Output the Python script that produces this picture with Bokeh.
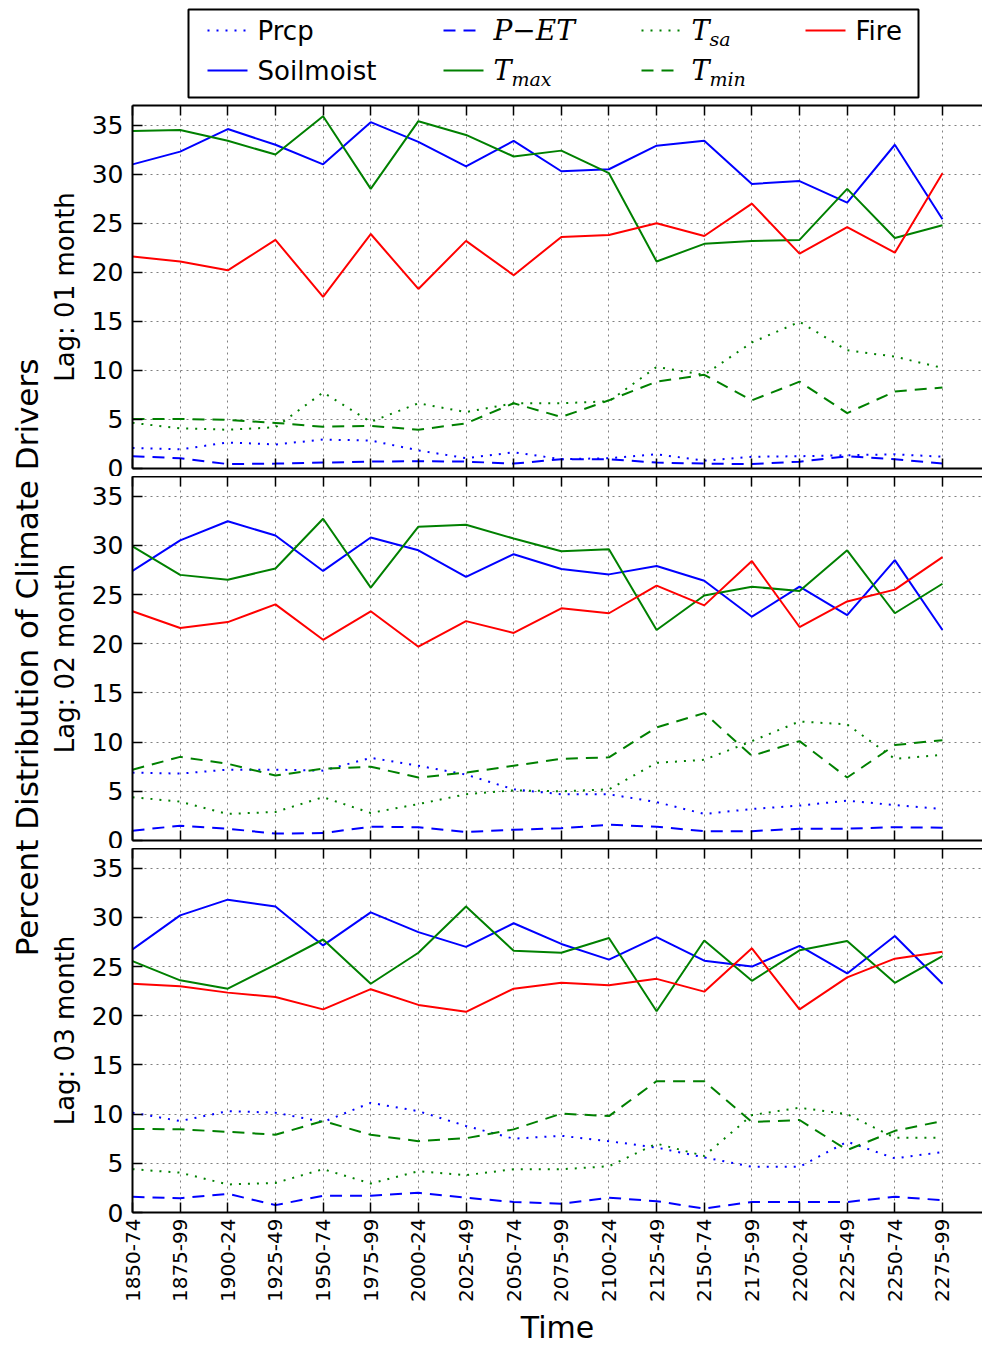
import math
from bokeh.plotting import figure
from bokeh.models import Range1d, FixedTicker, LinearAxis, Label
from bokeh.layouts import column, row
from bokeh.embed import file_html
from bokeh.resources import INLINE

periods = ["1850-74", "1875-99", "1900-24", "1925-49", "1950-74", "1975-99",
           "2000-24", "2025-49", "2050-74", "2075-99", "2100-24", "2125-49",
           "2150-74", "2175-99", "2200-24", "2225-49", "2250-74", "2275-99"]

# ---- Lag: 01 month ----
prcp1 = [2.1, 1.95, 2.65, 2.45, 2.95, 2.85, 1.85, 1.05, 1.65, 0.95, 1.05, 1.45, 0.8, 1.2, 1.25, 1.35, 1.45, 1.2]
soil1 = [31.0, 32.3, 34.6, 33.0, 31.0, 35.3, 33.3, 30.8, 33.4, 30.3, 30.5, 32.9, 33.4, 29.0, 29.3, 27.1, 33.0, 25.4]
pet1 = [1.25, 1.05, 0.45, 0.5, 0.6, 0.7, 0.75, 0.7, 0.5, 0.95, 0.95, 0.6, 0.5, 0.45, 0.7, 1.25, 0.95, 0.5]
tmax1 = [34.4, 34.5, 33.4, 32.0, 35.9, 28.5, 35.4, 34.0, 31.8, 32.4, 30.1, 21.1, 22.9, 23.2, 23.3, 28.5, 23.5, 24.8]
tsa1 = [4.65, 4.1, 3.95, 4.2, 7.75, 4.75, 6.65, 5.75, 6.65, 6.65, 6.85, 10.35, 9.55, 12.85, 14.95, 12.05, 11.4, 10.25]
tmin1 = [5.05, 5.05, 4.95, 4.65, 4.25, 4.35, 3.95, 4.6, 6.65, 5.25, 6.95, 8.85, 9.55, 6.95, 8.85, 5.65, 7.85, 8.25]
fire1 = [21.6, 21.1, 20.2, 23.3, 17.5, 23.9, 18.3, 23.2, 19.7, 23.6, 23.8, 25.0, 23.7, 27.0, 21.9, 24.6, 22.0, 30.1]

# ---- Lag: 02 month ----
prcp2 = [6.9, 6.8, 7.2, 7.2, 7.1, 8.4, 7.6, 6.7, 5.2, 4.7, 4.7, 3.9, 2.7, 3.2, 3.55, 4.05, 3.6, 3.2]
soil2 = [27.4, 30.5, 32.45, 31.0, 27.4, 30.8, 29.5, 26.8, 29.1, 27.6, 27.05, 27.9, 26.4, 22.75, 25.8, 22.9, 28.5, 21.4]
pet2 = [1.0, 1.5, 1.2, 0.7, 0.75, 1.4, 1.35, 0.85, 1.1, 1.25, 1.6, 1.4, 0.95, 0.95, 1.2, 1.2, 1.35, 1.3]
tmax2 = [29.9, 27.0, 26.5, 27.65, 32.7, 25.7, 31.9, 32.1, 30.7, 29.4, 29.6, 21.4, 24.9, 25.8, 25.35, 29.5, 23.1, 26.1]
tsa2 = [4.4, 3.95, 2.7, 2.9, 4.4, 2.8, 3.7, 4.7, 5.1, 5.0, 5.2, 7.9, 8.2, 10.1, 12.1, 11.8, 8.3, 8.7]
tmin2 = [7.2, 8.5, 7.8, 6.6, 7.3, 7.5, 6.4, 6.9, 7.6, 8.3, 8.45, 11.5, 12.95, 8.6, 10.1, 6.4, 9.7, 10.2]
fire2 = [23.3, 21.6, 22.2, 24.0, 20.4, 23.3, 19.7, 22.3, 21.1, 23.6, 23.1, 25.9, 23.9, 28.4, 21.7, 24.3, 25.5, 28.8]

# ---- Lag: 03 month ----
prcp3 = [10.15, 9.3, 10.3, 10.15, 9.2, 11.15, 10.3, 8.8, 7.5, 7.8, 7.25, 6.6, 5.6, 4.65, 4.65, 7.2, 5.5, 6.15]
soil3 = [26.75, 30.2, 31.8, 31.1, 27.15, 30.5, 28.5, 27.0, 29.4, 27.3, 25.7, 28.0, 25.6, 25.0, 27.1, 24.3, 28.1, 23.25]
pet3 = [1.6, 1.45, 1.9, 0.75, 1.7, 1.7, 2.0, 1.5, 1.07, 0.9, 1.5, 1.15, 0.4, 1.07, 1.07, 1.07, 1.6, 1.25]
tmax3 = [25.55, 23.6, 22.75, 25.2, 27.75, 23.25, 26.4, 31.1, 26.6, 26.4, 27.9, 20.45, 27.65, 23.55, 26.65, 27.6, 23.35, 26.05]
tsa3 = [4.4, 4.05, 2.85, 3.0, 4.4, 2.95, 4.2, 3.8, 4.4, 4.4, 4.7, 7.0, 5.75, 9.9, 10.65, 10.0, 7.6, 7.6]
tmin3 = [8.5, 8.45, 8.2, 7.9, 9.3, 7.9, 7.25, 7.55, 8.45, 10.05, 9.8, 13.35, 13.35, 9.2, 9.4, 6.35, 8.3, 9.3]
fire3 = [23.25, 23.0, 22.35, 21.9, 20.65, 22.7, 21.1, 20.4, 22.75, 23.35, 23.1, 23.75, 22.45, 26.85, 20.65, 23.9, 25.8, 26.5]

series_names = ["Prcp", "Soilmoist", "P-ET", "Tmax", "Tsa", "Tmin", "Fire"]
series_colors = ["#0000ff", "#0000ff", "#0000ff", "#008000", "#008000", "#008000", "#ff0000"]
DOT = "2 7"
DASH = "12 8"
series_dash = [DOT, "solid", DASH, "solid", DOT, DASH, "solid"]

lags = [
    ("Lag: 01 month", [prcp1, soil1, pet1, tmax1, tsa1, tmin1, fire1]),
    ("Lag: 02 month", [prcp2, soil2, pet2, tmax2, tsa2, tmin2, fire2]),
    ("Lag: 03 month", [prcp3, soil3, pet3, tmax3, tsa3, tmin3, fire3]),
]

SANS = "DejaVu Sans"
LW = 2
xpos = list(range(len(periods)))
yticks = [0, 5, 10, 15, 20, 25, 30, 35]

FRAME_W = 850
X_END = 17.84
LAB_W = 46


def hide_labels(ax):
    ax.major_label_text_font_size = "0px"
    ax.major_label_text_color = None
    ax.major_label_standoff = 0


def make_panel(label, data, is_last, frame_h, top, bottom):
    p = figure(frame_width=FRAME_W, frame_height=frame_h,
               x_range=Range1d(0, X_END), y_range=Range1d(0, 37),
               output_backend="svg", toolbar_location=None,
               min_border_left=132 - LAB_W, min_border_right=0,
               min_border_top=top, min_border_bottom=bottom)
    p.outline_line_color = None

    p.xaxis.ticker = FixedTicker(ticks=xpos)
    p.xaxis.major_tick_in = 10
    p.xaxis.major_tick_out = 0
    p.xaxis.minor_tick_line_color = None
    p.xaxis.axis_line_width = 2
    p.xaxis.major_tick_line_width = 1.5
    if is_last:
        p.xaxis.major_label_overrides = {i: s for i, s in zip(xpos, periods)}
        p.xaxis.major_label_orientation = math.pi / 2
        p.xaxis.major_label_text_font = SANS
        p.xaxis.major_label_text_font_size = "20px"
        p.xaxis.major_label_text_color = "black"
        p.xaxis.major_label_standoff = 6
        p.xaxis.axis_label = "Time"
        p.xaxis.axis_label_text_font = SANS
        p.xaxis.axis_label_text_font_size = "30px"
        p.xaxis.axis_label_text_font_style = "normal"
        p.xaxis.axis_label_text_color = "black"
        p.xaxis.axis_label_standoff = 5
    else:
        hide_labels(p.xaxis[0])

    p.yaxis.ticker = FixedTicker(ticks=yticks)
    p.yaxis.major_tick_in = 10
    p.yaxis.major_tick_out = 0
    p.yaxis.minor_tick_line_color = None
    p.yaxis.axis_line_width = 2
    p.yaxis.major_tick_line_width = 1.5
    p.yaxis.major_label_text_font = SANS
    p.yaxis.major_label_text_font_size = "25px"
    p.yaxis.major_label_text_color = "black"
    p.yaxis.major_label_standoff = 9
    p.yaxis.axis_label = label
    p.yaxis.axis_label_text_font = SANS
    p.yaxis.axis_label_text_font_size = "26px"
    p.yaxis.axis_label_text_font_style = "normal"
    p.yaxis.axis_label_text_color = "black"
    p.yaxis.axis_label_standoff = 9

    top_ax = LinearAxis(ticker=FixedTicker(ticks=xpos), major_tick_in=10, major_tick_out=0,
                        minor_tick_line_color=None, axis_line_width=2,
                        major_tick_line_width=1.5)
    hide_labels(top_ax)
    p.add_layout(top_ax, "above")

    p.grid.grid_line_color = "#808080"
    p.grid.grid_line_width = 1
    p.grid.grid_line_dash = "2 4"
    p.xgrid.ticker = FixedTicker(ticks=xpos)
    p.ygrid.ticker = FixedTicker(ticks=yticks)

    for vals, col, dash in zip(data, series_colors, series_dash):
        p.line(xpos, vals, line_color=col, line_width=LW, line_dash=dash)
    return p


p1 = make_panel(lags[0][0], lags[0][1], False, 363, 3, 8)
p2 = make_panel(lags[1][0], lags[1][1], False, 364, 0, 8)
p3 = make_panel(lags[2][0], lags[2][1], True, 364, 0, 130)

LEG_H = 102
STACK_H = 1347 - LEG_H

# big shared y label
lab = figure(width=LAB_W, height=STACK_H, x_range=Range1d(0, LAB_W), y_range=Range1d(0, STACK_H),
             output_backend="svg", toolbar_location=None, min_border=0)
lab.axis.visible = False
lab.grid.visible = False
lab.outline_line_color = None
lab.add_layout(Label(x=26, y=STACK_H - (657 - LEG_H), text="Percent Distribution of Climate Drivers",
                     angle=math.pi / 2, text_align="center", text_baseline="middle",
                     text_font=SANS, text_font_size="31px", text_color="black"))

# legend
LEG_W = 982
leg = figure(width=LEG_W, height=LEG_H, x_range=Range1d(0, LEG_W), y_range=Range1d(LEG_H, 0),
             output_backend="svg", toolbar_location=None, min_border=0)
leg.axis.visible = False
leg.grid.visible = False
leg.outline_line_color = None
leg.quad(left=[188], right=[918], top=[9], bottom=[97], fill_color=None,
         line_color="black", line_width=2)

col_x = {"Prcp": 207, "Soilmoist": 207, "P-ET": 443, "Tmax": 443, "Tsa": 641, "Tmin": 641, "Fire": 805}
row_y = {"Prcp": 30, "P-ET": 30, "Tsa": 30, "Fire": 30, "Soilmoist": 70, "Tmax": 70, "Tmin": 70}
for name, col, dash in zip(series_names, series_colors, series_dash):
    x0 = col_x[name]
    y0 = row_y[name]
    leg.line([x0, x0 + 40], [y0, y0], line_color=col, line_width=LW, line_dash=dash)
    tx = x0 + 50
    if name in ("Prcp", "Soilmoist", "Fire"):
        leg.add_layout(Label(x=tx, y=y0, text=name, text_font=SANS, text_font_size="26px",
                             text_baseline="middle", text_align="left", text_color="black"))
    elif name == "P-ET":
        leg.add_layout(Label(x=tx, y=y0, text="P\u2212ET", text_font="DejaVu Serif",
                             text_font_style="italic", text_font_size="28px",
                             text_baseline="middle", text_align="left", text_color="black"))
    else:
        sub = {"Tmax": "max", "Tsa": "sa", "Tmin": "min"}[name]
        leg.add_layout(Label(x=tx, y=y0, text="T", text_font="DejaVu Serif",
                             text_font_style="italic", text_font_size="27px",
                             text_baseline="middle", text_align="left", text_color="black"))
        leg.add_layout(Label(x=tx + 18, y=y0 + 8, text=sub, text_font="DejaVu Serif",
                             text_font_style="italic", text_font_size="19px",
                             text_baseline="middle", text_align="left", text_color="black"))

layout = column(leg, row(lab, column(p1, p2, p3)))

open("out.html", "w").write(file_html(layout, INLINE))
